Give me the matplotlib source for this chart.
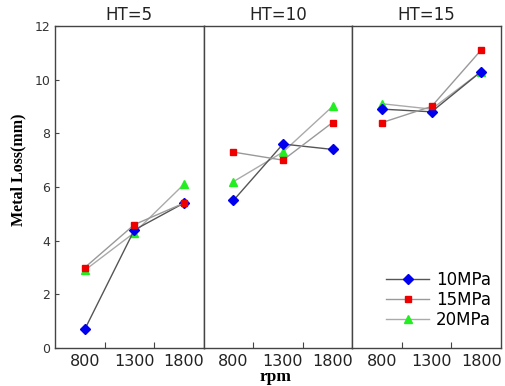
import matplotlib
matplotlib.use("Agg")
import matplotlib.pyplot as plt

rpm = [800, 1300, 1800]
panels = ["HT=5", "HT=10", "HT=15"]
series = ["10MPa", "15MPa", "20MPa"]

# metal loss (mm) per panel, per pressure
loss_10 = [[0.7, 4.4, 5.4], [5.5, 7.6, 7.4], [8.9, 8.8, 10.3]]
loss_15 = [[3.0, 4.6, 5.4], [7.3, 7.0, 8.4], [8.4, 9.0, 11.1]]
loss_20 = [[2.9, 4.3, 6.1], [6.2, 7.3, 9.0], [9.1, 8.9, 10.3]]

styles = [
    dict(marker="D", color="#555555", mfc="#0000ee", mec="#0000ee", ms=5.5, zorder=3),
    dict(marker="s", color="#999999", mfc="#ee0000", mec="#ee0000", ms=5, zorder=4),
    dict(marker="^", color="#aaaaaa", mfc="#22ee22", mec="#22ee22", ms=6, zorder=2),
]

fig, axes = plt.subplots(1, 3, figsize=(5.05, 3.86), dpi=100, sharey=True)
fig.subplots_adjust(left=0.109, right=0.992, bottom=0.098, top=0.933, wspace=0)

edge = "#444444"
for i, ax in enumerate(axes):
    for data, name, st in zip([loss_10, loss_15, loss_20], series, styles):
        ax.plot(rpm, data[i], lw=1.0, label=name, **st)
    ax.set_xlim(500, 2000)
    ax.set_ylim(0, 12)
    ax.set_yticks(range(0, 13, 2))
    ax.set_xticks([1000, 1500])
    ax.set_xticklabels([])
    ax.set_xticks(rpm, minor=True)
    ax.set_xticklabels([str(r) for r in rpm], minor=True)
    ax.tick_params(axis="x", which="major", direction="in", length=4, color=edge)
    ax.tick_params(axis="x", which="minor", length=0, labelsize=11.5,
                   labelcolor="#222222", pad=4)
    ax.tick_params(axis="y", direction="in", length=3, color=edge,
                   labelsize=9, labelcolor="#333333")
    for s in ax.spines.values():
        s.set_color(edge)
        s.set_linewidth(1.0)
    ax.set_title(panels[i], fontsize=12, color="#222222", pad=4)
    if i > 0:
        ax.tick_params(axis="y", length=0)

fig.text(0.036, 0.56, "Metal Loss(mm)", rotation=90, ha="center", va="center",
         fontfamily="Liberation Serif", fontweight="bold", fontsize=11.5)
fig.text(0.545, 0.003, "rpm", ha="center", va="bottom", fontfamily="Liberation Serif",
         fontweight="bold", fontsize=12.5)

handles, labels = axes[2].get_legend_handles_labels()
axes[2].legend(handles, labels, loc="lower right", frameon=False, fontsize=12,
               handlelength=2.6, handletextpad=0.4, labelspacing=0.12,
               borderaxespad=0.2, bbox_to_anchor=(1.0, 0.03), markerscale=0.9)

fig.savefig("out.png", dpi=100)
